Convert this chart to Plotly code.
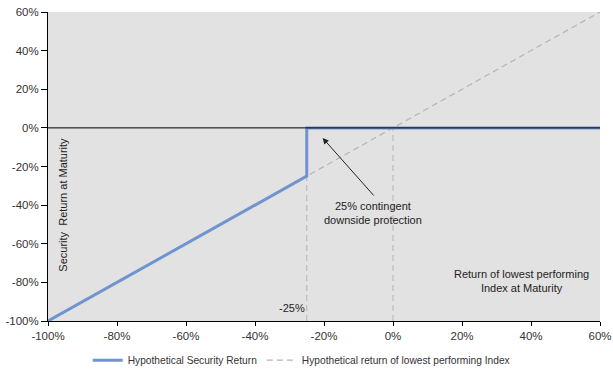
import plotly.graph_objects as go

# Data
sec_x = [-100, -25, -25, 60]
sec_y = [-100, -25, 0, 0]
idx_x = [-100, 60]
idx_y = [-100, 60]
vline1_x = [-25, -25]
vline1_y = [-100, -25]
vline2_x = [0, 0]
vline2_y = [-100, 0]
tick_vals = [-100, -80, -60, -40, -20, 0, 20, 40, 60]

FONT = "Liberation Sans, Arial, sans-serif"
gray_dash = "#b4b4b4"
DASH = "6px,4px"

fig = go.Figure()
fig.add_trace(go.Scatter(x=idx_x, y=idx_y, mode="lines", showlegend=False,
                         line=dict(color=gray_dash, width=1.2, dash=DASH), hoverinfo="skip"))
fig.add_trace(go.Scatter(x=vline1_x, y=vline1_y, mode="lines", showlegend=False,
                         line=dict(color=gray_dash, width=1, dash=DASH), hoverinfo="skip"))
fig.add_trace(go.Scatter(x=vline2_x, y=vline2_y, mode="lines", showlegend=False,
                         line=dict(color=gray_dash, width=1, dash=DASH), hoverinfo="skip"))
fig.add_trace(go.Scatter(x=sec_x, y=sec_y, mode="lines", name="Hypothetical Security Return",
                         line=dict(color="#7094d0", width=3)))
# legend-only entry for index line
fig.add_trace(go.Scatter(x=[None], y=[None], mode="lines",
                         name="Hypothetical return of lowest performing Index",
                         line=dict(color=gray_dash, width=1.2, dash=DASH)))

fig.add_shape(type="line", xref="paper", yref="y", x0=0, x1=1, y0=0, y1=0,
              line=dict(color="black", width=1), layer="above")

fig.add_annotation(x=-20.4, y=-5.2, ax=-5.2, ay=-35.8, xref="x", yref="y",
                   axref="x", ayref="y", text="", showarrow=True,
                   arrowhead=2, arrowsize=1.2, arrowwidth=1, arrowcolor="#222")
fig.add_annotation(x=-5.8, y=-44, xref="x", yref="y", showarrow=False,
                   text="25% contingent<br>downside protection",
                   font=dict(family=FONT, size=11, color="#222"))
fig.add_annotation(x=-29.4, y=-93.1, xref="x", yref="y", showarrow=False,
                   text="-25%", font=dict(family=FONT, size=11, color="#222"))
fig.add_annotation(x=37.3, y=-79.5, xref="x", yref="y", showarrow=False,
                   text="Return of lowest performing<br>Index at Maturity",
                   font=dict(family=FONT, size=11, color="#222"))
fig.add_annotation(x=-95.5, y=-40, xref="x", yref="y", showarrow=False,
                   text="Security  Return at Maturity", textangle=-90,
                   font=dict(family=FONT, size=11, color="#222"))

axis_common = dict(range=[-100, 60], tickvals=tick_vals,
                   ticktext=[f"{v}%" for v in tick_vals],
                   showgrid=False, zeroline=False, showline=True, linecolor="black",
                   linewidth=1, ticks="outside", ticklen=4, tickcolor="black",
                   automargin=False,
                   tickfont=dict(family=FONT, size=11.5, color="#333"), fixedrange=True)

fig.update_layout(
    width=613, height=370,
    margin=dict(l=48, r=13, t=12, b=49, autoexpand=False),
    paper_bgcolor="white", plot_bgcolor="#e2e2e2",
    xaxis=axis_common, yaxis=dict(axis_common, ticklen=6),
    font=dict(family=FONT, size=11, color="#333"),
    legend=dict(orientation="h", x=0.072, xanchor="left", y=-0.08, yanchor="top",
                font=dict(family=FONT, size=10.2, color="#333"),
                itemwidth=30, tracegroupgap=0),
)
fig.write_html("out.html", config={"displayModeBar": False},
               post_script="document.body.style.margin='0';document.body.style.overflow='hidden';")
